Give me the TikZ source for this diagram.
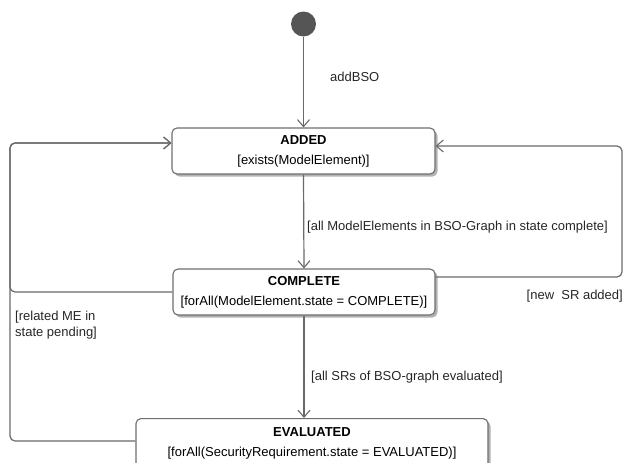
\documentclass[tikz,border=0pt]{standalone}
\usepackage{fontspec}
\setmainfont{Liberation Sans}
\usetikzlibrary{arrows.meta,shadows}
\definecolor{linegray}{RGB}{105,105,105}
\definecolor{boxgray}{RGB}{110,110,110}
\definecolor{dotgray}{RGB}{85,85,85}
\tikzset{
  statebox/.style={draw=boxgray, line width=1.1pt, fill=white, rounded corners=5pt,
    inner sep=0pt, align=center, font=\fontsize{13}{20}\selectfont,
    drop shadow={shadow xshift=2.5pt, shadow yshift=-2.5pt, fill=black!30, opacity=1}},
  conn/.style={draw=linegray, line width=1.2pt, rounded corners=5pt,
    -{Straight Barb[length=7pt,width=12pt,line width=1.1pt]}},
  lbl/.style={font=\fontsize{13}{16}\selectfont, inner sep=0pt, text=black!85}
}
\begin{document}
\begin{tikzpicture}[x=1pt,y=-1pt]
\useasboundingbox (0,0) rectangle (624,463);
\clip (0,0) rectangle (624,463);
% initial state
\node[circle, fill=dotgray, minimum size=25pt, inner sep=0pt] (init) at (303.5,24) {};
% states
\node[statebox, minimum width=263pt, minimum height=46pt] (added) at (303.5,151)
  {\textbf{ADDED}\\{}{[}exists(ModelElement)]};
\node[statebox, minimum width=262pt, minimum height=46pt] (complete) at (304,292)
  {\textbf{COMPLETE}\\{}{[}forAll(ModelElement.state = COMPLETE)]};
\node[statebox, minimum width=352pt, minimum height=50pt, anchor=north] (evaluated) at (312,418)
  {\textbf{EVALUATED}\\{}{[}forAll(SecurityRequirement.state = EVALUATED)]};
% waypoints
\coordinate (lt) at (10,143);
\coordinate (rt) at (622,146);
% connectors
\draw[conn] (init) -- (added.north);
\draw[conn] (added.south) -- (complete.north);
\draw[conn] (complete.south) -- (evaluated.north -| complete.south);
\draw[conn] (complete.east |- 0,277) -- (rt |- 0,277) -- (rt) -- (added.east |- rt);
\draw[conn] (complete.west) -- (lt |- complete.west) -- (lt) -- (added.west |- lt);
\draw[conn] (evaluated.west |- 0,441) -- (lt |- 0,441) -- (lt) -- (added.west |- lt);
% labels
\node[lbl, anchor=west] (lab1) at (330,77) {addBSO};
\node[lbl, anchor=west] (lab2) at (307,227) {[all ModelElements in BSO-Graph in state complete]};
\node[lbl, anchor=west] (lab3) at (311,377) {[all SRs of BSO-graph evaluated]};
\node[lbl, anchor=east] (lab4) at (623,296) {[new\ \ SR added]};
\node[lbl, anchor=west, align=left, font=\fontsize{13}{15.5}\selectfont] (lab5) at (15,325) {[related ME in\\{}state pending]};
\end{tikzpicture}
\end{document}
